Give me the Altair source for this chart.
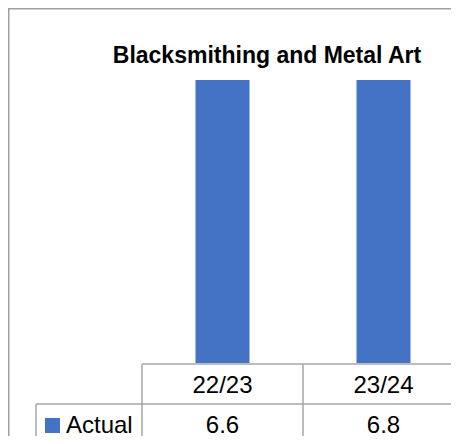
import altair as alt
import pandas as pd

# ---- data ----
categories = ["22/23", "23/24"]
actual = [6.6, 6.8]
series_name = "Actual"
title_text = "Blacksmithing and Metal Art"

df = pd.DataFrame({"period": categories, "value": actual})
one = pd.DataFrame({"k": [0]})

W, H = 443, 428
FONT = "Liberation Sans"
GRID = "#a6a6a6"
BAR = "#4472C4"

xscale = alt.Scale(domain=categories, range=[134, 456], paddingInner=0, paddingOuter=0)
yscale = alt.Scale(domain=[0, 6], range=[355, 72], clamp=True)

bars = alt.Chart(df).mark_bar(size=54, color=BAR).encode(
    x=alt.X("period:N", scale=xscale, axis=None),
    y=alt.Y("value:Q", scale=yscale, axis=None),
)

header = alt.Chart(df).mark_text(font=FONT, fontSize=24, baseline="alphabetic", color="#000000").encode(
    x=alt.X("period:N", scale=xscale, axis=None),
    y=alt.value(385),
    text="period:N",
)

vals = alt.Chart(df).mark_text(font=FONT, fontSize=24, baseline="alphabetic", color="#000000").encode(
    x=alt.X("period:N", scale=xscale, axis=None),
    y=alt.value(424.5),
    text=alt.Text("value:Q", format=".1f"),
)

title = alt.Chart(one).mark_text(font=FONT, fontSize=23, fontWeight="bold", baseline="alphabetic",
                                 color="#000000", text=title_text).encode(
    x=alt.value(259), y=alt.value(55)
)

legend_sq = alt.Chart(one).mark_rect(color=BAR).encode(
    x=alt.value(37), x2=alt.value(52), y=alt.value(410), y2=alt.value(425)
)
legend_txt = alt.Chart(one).mark_text(font=FONT, fontSize=24, baseline="alphabetic", align="left",
                                      color="#000000", text=series_name).encode(
    x=alt.value(58), y=alt.value(424.5)
)

def hline(x1, x2, y, w=1.5, c=GRID):
    return alt.Chart(one).mark_rule(color=c, strokeWidth=w).encode(
        x=alt.value(x1), x2=alt.value(x2), y=alt.value(y))

def vline(x, y1, y2, w=1.5, c=GRID):
    return alt.Chart(one).mark_rule(color=c, strokeWidth=w).encode(
        x=alt.value(x), y=alt.value(y1), y2=alt.value(y2))

lines = [
    hline(0, W, 0.5, 2, "#a0a0a0"),
    vline(0.5, 0, H, 2, "#a0a0a0"),
    hline(134, W, 356),
    vline(134, 356, H),
    vline(295, 356, H),
    hline(28, W, 396),
    vline(28, 396, H),
]

chart = alt.layer(*lines, bars, header, vals, legend_sq, legend_txt, title).properties(
    width=W, height=H, padding=0, autosize=alt.AutoSizeParams(type="none")
).configure_view(stroke=None).configure(background="white")

chart.save("out.html", embed_options={"renderer": "svg", "actions": False})
